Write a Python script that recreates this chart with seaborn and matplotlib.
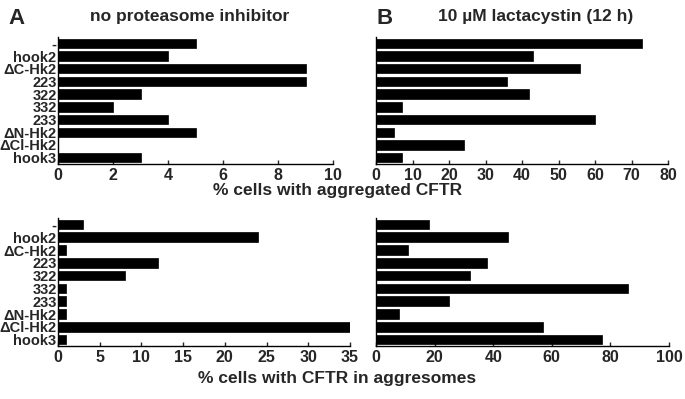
import matplotlib
matplotlib.use("Agg")
import matplotlib.pyplot as plt
import seaborn as sns
import pandas as pd

constructs = ["-", "hook2", "ΔC-Hk2", "223", "322", "332", "233", "ΔN-Hk2", "ΔCl-Hk2", "hook3"]
agg_no_inhib = [5, 4, 9, 9, 3, 2, 4, 5, 0, 3]
agg_lacta = [73, 43, 56, 36, 42, 7, 60, 5, 24, 7]
aggresome_no_inhib = [3, 24, 1, 12, 8, 1, 1, 1, 35, 1]
aggresome_lacta = [18, 45, 11, 38, 32, 86, 25, 8, 57, 77]

ticks_a = [0, 2, 4, 6, 8, 10]
ticks_b = [0, 10, 20, 30, 40, 50, 60, 70, 80]
ticks_c = [0, 5, 10, 15, 20, 25, 30, 35]
ticks_d = [0, 20, 40, 60, 80, 100]

sns.set_style("ticks")
plt.rcParams["font.family"] = ["Liberation Sans", "DejaVu Sans"]
plt.rcParams["font.weight"] = "bold"

W, H = 685, 399
fig = plt.figure(figsize=(6.85, 3.99), dpi=100)

def make_ax(x0, x1, ytop, ybot):
    return fig.add_axes([x0 / W, 1 - ybot / H, (x1 - x0) / W, (ybot - ytop) / H])

panels = [
    (make_ax(58, 333, 37, 164), agg_no_inhib, ticks_a, True),
    (make_ax(376, 668, 37, 164), agg_lacta, ticks_b, False),
    (make_ax(58, 350, 218, 346), aggresome_no_inhib, ticks_c, True),
    (make_ax(376, 669, 218, 346), aggresome_lacta, ticks_d, False),
]

for ax, vals, ticks, show_labels in panels:
    df = pd.DataFrame({"construct": constructs, "value": vals})
    sns.barplot(data=df, x="value", y="construct", color="black", saturation=1,
                width=0.74, orient="h", ax=ax, edgecolor="black", linewidth=0.5)
    ax.set_xlim(ticks[0], ticks[-1])
    ax.set_ylim(9.5, -0.5)
    ax.set_xticks(ticks)
    ax.set_xticklabels([str(t) for t in ticks], fontsize=11.5, fontweight="bold")
    ax.tick_params(axis="x", direction="in", length=3, width=1, pad=3)
    ax.tick_params(axis="y", length=0, pad=1)
    if show_labels:
        ax.set_yticklabels(constructs, fontsize=10.5, fontweight="bold")
    else:
        ax.set_yticklabels([])
    ax.set_xlabel("")
    ax.set_ylabel("")
    for s in ["top", "right"]:
        ax.spines[s].set_visible(False)
    for s in ["left", "bottom"]:
        ax.spines[s].set_linewidth(1)
        ax.spines[s].set_color("black")

fig.text(8 / W, 1 - 19 / H, "A", fontsize=16, fontweight="bold", va="center", ha="left")
fig.text(190 / W, 1 - 17 / H, "no proteasome inhibitor", fontsize=12.5, fontweight="bold",
         va="center", ha="center")
fig.text(377 / W, 1 - 19 / H, "B", fontsize=16, fontweight="bold", va="center", ha="left")
fig.text(536 / W, 1 - 17 / H, "10 µM lactacystin (12 h)", fontsize=12.5, fontweight="bold",
         va="center", ha="center")
fig.text(338 / W, 1 - 190 / H, "% cells with aggregated CFTR", fontsize=12.5,
         fontweight="bold", va="center", ha="center")
fig.text(337 / W, 1 - 378 / H, "% cells with CFTR in aggresomes", fontsize=12.5,
         fontweight="bold", va="center", ha="center")

fig.savefig("out.png", dpi=100)
